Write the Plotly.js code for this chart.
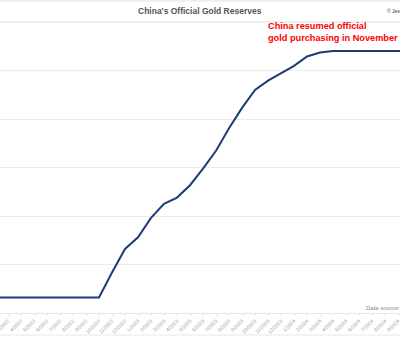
<!DOCTYPE html>
<html>
<head>
<meta charset="utf-8">
<script src="https://cdn.plot.ly/plotly-3.0.1.min.js"></script>
<style>html,body{margin:0;padding:0;background:#fff;}#chart{width:400px;height:338px;}</style>
</head>
<body>
<div id="chart"></div>
<script>
// Month labels (category axis)
var months = ["1/2022","2/2022","3/2022","4/2022","5/2022","6/2022","7/2022","8/2022","9/2022","10/2022","11/2022","12/2022",
  "1/2023","2/2023","3/2023","4/2023","5/2023","6/2023","7/2023","8/2023","9/2023","10/2023","11/2023","12/2023",
  "1/2024","2/2024","3/2024","4/2024","5/2024","6/2024","7/2024","8/2024","9/2024","10/2024"];
// Official gold reserves, million fine troy ounces
var reserves = [62.64,62.64,62.64,62.64,62.64,62.64,62.64,62.64,62.64,62.64,63.67,64.64,
  65.12,65.92,66.50,66.76,67.27,67.95,68.69,69.62,70.46,71.20,71.58,71.87,
  72.19,72.58,72.74,72.80,72.80,72.80,72.80,72.80,72.80,72.80];
var yTicks = [62,64,66,68,70,72,74];

var trace = {
  x: months, y: reserves, type: "scatter", mode: "lines",
  line: {color: "#1f3a7a", width: 2}, hoverinfo: "skip"
};

var layout = {
  width: 400, height: 338,
  margin: {l: 0, r: 0, t: 22, b: 25},
  paper_bgcolor: "#ffffff", plot_bgcolor: "#ffffff",
  showlegend: false,
  xaxis: {
    type: "category", range: [1.385, 32.15],
    tickangle: -45, tickfont: {family: "Liberation Sans, Arial, sans-serif", size: 5, color: "#9a9a9a"},
    ticks: "outside", ticklen: 2, tickcolor: "#e6e6e6",
    showgrid: false, showline: true, linecolor: "#e6e6e6", linewidth: 1, zeroline: false
  },
  yaxis: {
    range: [62, 74], tickvals: yTicks, showticklabels: false,
    showgrid: true, gridcolor: "#ebebeb", gridwidth: 1, zeroline: false, showline: false
  },
  shapes: [
    {type: "line", xref: "paper", yref: "paper", x0: 0, x1: 1, y0: 1.0727, y1: 1.0727, line: {color: "#efefef", width: 2}},
    {type: "line", xref: "paper", yref: "paper", x0: 0, x1: 1, y0: 1.0, y1: 1.0, line: {color: "#efefef", width: 2}},
    {type: "line", xref: "paper", yref: "paper", x0: 0, x1: 1, y0: -0.0755, y1: -0.0755, line: {color: "#efefef", width: 1.5}}
  ],
  annotations: [
    {xref: "paper", yref: "paper", x: 0.5, y: 1.0364, xanchor: "center", yanchor: "middle", showarrow: false,
     text: "<b>China's Official Gold Reserves</b>", font: {family: "Liberation Sans, Arial, sans-serif", size: 8.5, color: "#555555"}},
    {xref: "paper", yref: "paper", x: 0.962, y: 1.0364, xanchor: "left", yanchor: "middle", showarrow: false,
     text: "© Jess", font: {family: "Liberation Sans, Arial, sans-serif", size: 5, color: "#333333"}},
    {xref: "paper", yref: "paper", x: 0.664, y: 1.012, xanchor: "left", yanchor: "top", showarrow: false, align: "left",
     text: "<b>China resumed official<br>gold purchasing in November</b>",
     font: {family: "Liberation Sans, Arial, sans-serif", size: 9.2, color: "#ff0000"}},
    {xref: "paper", yref: "paper", x: 0.91, y: 0.017, xanchor: "left", yanchor: "middle", showarrow: false,
     text: "<i>Data source: Peo</i>", font: {family: "Liberation Sans, Arial, sans-serif", size: 6, color: "#888888"}}
  ]
};

Plotly.newPlot("chart", [trace], layout, {displayModeBar: false, staticPlot: true});
</script>
</body>
</html>
